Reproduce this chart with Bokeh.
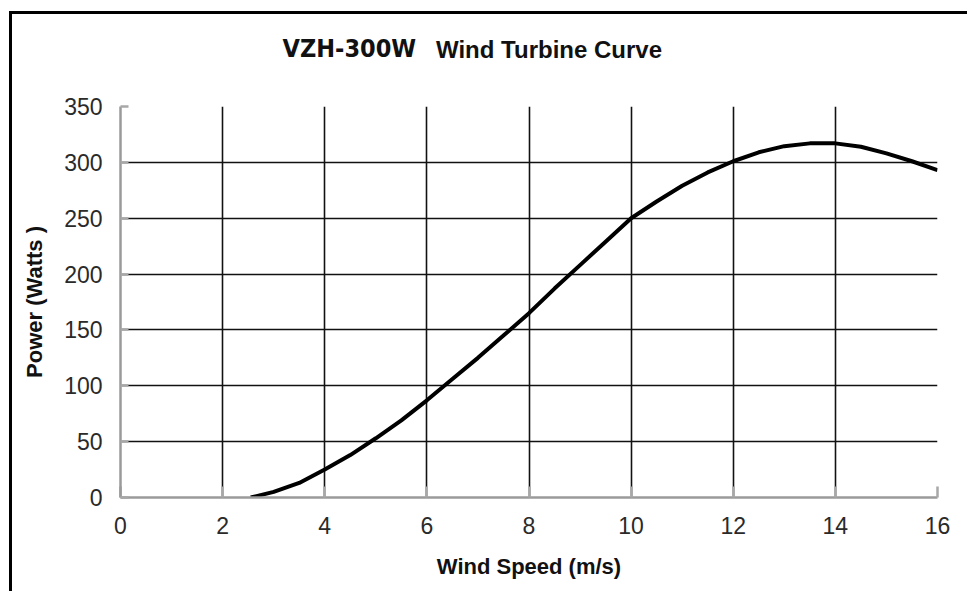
from bokeh.plotting import figure
from bokeh.models import Range1d, FixedTicker, Label
from bokeh.embed import file_html
from bokeh.resources import INLINE

# ---- data ----
wind_speed = [2.55, 3, 3.5, 4, 4.5, 5, 5.5, 6, 6.5, 7, 7.5, 8, 8.5, 9, 9.5,
              10, 10.5, 11, 11.5, 12, 12.5, 13, 13.5, 14, 14.5, 15, 15.5, 16]
power = [0, 5, 13, 25, 38, 53, 69, 87, 106, 125, 145, 165, 187, 208, 229,
         250, 265, 279, 291, 301, 309, 314.5, 317, 317, 314, 308, 301, 293]
x_ticks = [0, 2, 4, 6, 8, 10, 12, 14, 16]
y_ticks = [0, 50, 100, 150, 200, 250, 300, 350]
title_model = "VZH-300W"
title_text = "Wind Turbine Curve"
x_label = "Wind Speed (m/s)"
y_label = "Power (Watts )"

FONT = "Liberation Sans"
OX, OY = 12, 14   # canvas origin on the page (margin + frame border)

p = figure(width=958, height=580, output_backend="svg", toolbar_location=None,
           x_range=Range1d(0, 16), y_range=Range1d(0, 350),
           min_border_left=120 - OX, min_border_right=33,
           min_border_top=106 - OY, min_border_bottom=97)
p.margin = (11, 0, 0, 9)
p.styles = {"border-left": "3px solid black", "border-top": "3px solid black"}
p.background_fill_color = "white"
p.border_fill_color = "white"
p.outline_line_color = None

# curve
p.line(wind_speed, power, line_color="black", line_width=4, line_join="round")

# grid
p.xgrid.ticker = FixedTicker(ticks=x_ticks)
p.ygrid.ticker = FixedTicker(ticks=y_ticks)
for g in (p.xgrid, p.ygrid):
    g.grid_line_color = "#111111"
    g.grid_line_width = 1.6
    g.grid_line_alpha = 1.0

# axes
p.xaxis.ticker = FixedTicker(ticks=x_ticks)
p.yaxis.ticker = FixedTicker(ticks=y_ticks)
for ax in (p.xaxis, p.yaxis):
    ax.axis_line_color = "#9a9a9a"
    ax.axis_line_width = 2.5
    ax.major_tick_line_color = "#a8a8a8"
    ax.major_tick_line_width = 2.5
    ax.major_tick_out = 0
    ax.minor_tick_line_color = None
    ax.major_label_text_font = FONT
    ax.major_label_text_font_size = "23px"
    ax.major_label_text_color = "#2a2a2a"
    ax.axis_label_text_font = FONT
    ax.axis_label_text_font_style = "bold"
    ax.axis_label_text_font_size = "22px"
    ax.axis_label_text_color = "#111111"

p.xaxis.major_tick_in = 11
p.yaxis.major_tick_in = 8
p.xaxis.major_label_standoff = 19
p.yaxis.major_label_standoff = 18
p.xaxis.axis_label = x_label
p.yaxis.axis_label = y_label
p.xaxis.axis_label_standoff = 17
p.yaxis.axis_label_standoff = 14

# title (in the side panel so it is drawn outside the frame)
p.add_layout(Label(x=279 - OX, y=44.5 - OY, x_units="canvas", y_units="canvas",
                   text=title_model, text_font="DejaVu Sans Condensed",
                   text_font_style="bold", text_font_size="25px",
                   text_color="#111111", text_align="left",
                   text_baseline="alphabetic"), "above")
p.add_layout(Label(x=432.5 - OX, y=45.5 - OY, x_units="canvas", y_units="canvas",
                   text=title_text, text_font=FONT,
                   text_font_style="bold", text_font_size="24px",
                   text_color="#111111", text_align="left",
                   text_baseline="alphabetic"), "above")

open("out.html", "w").write(file_html(p, INLINE))
